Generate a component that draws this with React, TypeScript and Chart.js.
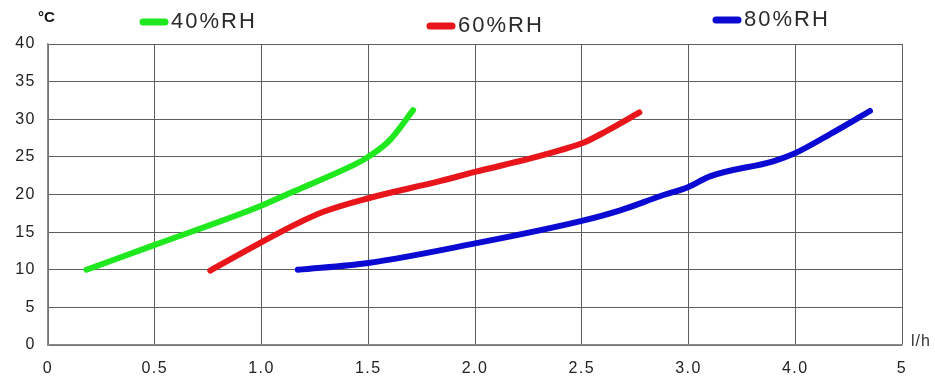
import React, { useEffect, useRef } from "react";
import { Chart, registerables } from "chart.js";

Chart.register(...registerables);

// x-axis tick labels (equally spaced on the chart, non-linear values)
const xTickLabels = ["0", "0.5", "1.0", "1.5", "2.0", "2.5", "3.0", "4.0", "5"];
const xTickValues = [0, 0.5, 1.0, 1.5, 2.0, 2.5, 3.0, 4.0, 5.0];
const yTicks = [0, 5, 10, 15, 20, 25, 30, 35, 40];

const seriesNames = ["40%RH", "60%RH", "80%RH"];
const seriesColors = ["#1fe81f", "#e8161b", "#0a0ad2"];

// flow l/h and temperature °C
const rh40Flow = [0.18, 0.5, 0.99, 1.15, 1.43, 1.5, 1.6, 1.71];
const rh40Temp = [10, 13.3, 18.4, 20.4, 23.9, 25.0, 27.2, 31.2];

const rh60Flow = [0.76, 0.99, 1.15, 1.29, 1.5, 1.84, 2.0, 2.26, 2.4, 2.51, 2.62, 2.77];
const rh60Temp = [9.9, 13.5, 15.9, 17.7, 19.5, 21.8, 23.0, 24.8, 25.9, 26.9, 28.5, 30.9];

const rh80Flow = [1.17, 1.5, 2.0, 2.5, 2.68, 2.87, 3.0, 3.2, 3.8, 4.0, 4.36, 4.7];
const rh80Temp = [10.0, 10.9, 13.5, 16.5, 17.9, 19.8, 21.0, 22.4, 24.45, 25.5, 28.3, 31.1];

// map a flow value to its position on the (piecewise) axis
function toAxis(v: number): number {
  for (let i = 0; i < xTickValues.length - 1; i++) {
    const a = xTickValues[i];
    const b = xTickValues[i + 1];
    if (v <= b || i === xTickValues.length - 2) {
      return i + (v - a) / (b - a);
    }
  }
  return 0;
}

const FONT = "'Liberation Sans', Arial, sans-serif";

export default function App() {
  const ref = useRef<HTMLCanvasElement | null>(null);

  useEffect(() => {
    if (!ref.current) return;
    const flows = [rh40Flow, rh60Flow, rh80Flow];
    const temps = [rh40Temp, rh60Temp, rh80Temp];
    const datasets = seriesNames.map((name, i) => ({
      label: name,
      data: flows[i].map((f, j) => ({ x: toAxis(f), y: temps[i][j] })),
      borderColor: seriesColors[i],
      backgroundColor: seriesColors[i],
      borderWidth: 6,
      pointRadius: 0,
      cubicInterpolationMode: "monotone" as const,
      borderCapStyle: "round" as const,
      borderJoinStyle: "round" as const,
    }));

    const legendPos = [
      { x: 140, y: 22 },
      { x: 427, y: 26 },
      { x: 713, y: 20 },
    ];

    const overlay = {
      id: "overlay",
      beforeDraw(chart: any) {
        chart.ctx.letterSpacing = "1.5px";
      },
      afterDraw(chart: any) {
        const ctx = chart.ctx;
        ctx.save();
        ctx.letterSpacing = "2px";
        seriesNames.forEach((name, i) => {
          const p = legendPos[i];
          ctx.strokeStyle = seriesColors[i];
          ctx.lineWidth = 7;
          ctx.lineCap = "round";
          ctx.beginPath();
          ctx.moveTo(p.x + 3, p.y);
          ctx.lineTo(p.x + 25, p.y);
          ctx.stroke();
          ctx.fillStyle = "#2a2a2a";
          ctx.font = `22px ${FONT}`;
          ctx.textBaseline = "middle";
          ctx.textAlign = "left";
          ctx.fillText(name, p.x + 31, p.y);
        });
        ctx.font = `bold 15px ${FONT}`;
        ctx.letterSpacing = "0px";
        ctx.fillStyle = "#111";
        ctx.textBaseline = "middle";
        ctx.fillText("°C", 38, 18);
        ctx.font = `16px ${FONT}`;
        ctx.letterSpacing = "1px";
        ctx.fillStyle = "#333";
        ctx.fillText("l/h", 911, 342);
        ctx.restore();
      },
    };

    const chart = new Chart(ref.current, {
      type: "line",
      data: { datasets },
      options: {
        animation: false,
        responsive: false,
        layout: { padding: { top: 44, right: 33, left: 0, bottom: 0 } },
        plugins: { legend: { display: false }, tooltip: { enabled: false } },
        scales: {
          x: {
            type: "linear",
            min: 0,
            max: xTickLabels.length - 1,
            afterFit(scale: any) {
              scale.height = 35;
            },
            afterBuildTicks(scale: any) {
              scale.ticks = xTickLabels.map((_, i) => ({ value: i }));
            },
            ticks: {
              autoSkip: false,
              padding: 14,
              color: "#222",
              font: { family: FONT, size: 16 },
              callback: (v: any) => xTickLabels[Math.round(Number(v))] ?? "",
            },
            grid: { color: "#5e5e5e", lineWidth: 1, drawTicks: false },
            border: { color: "#8a8a8a", width: 1.5 },
          },
          y: {
            type: "linear",
            min: 0,
            max: 40,
            afterFit(scale: any) {
              scale.width = 48;
            },
            afterBuildTicks(scale: any) {
              scale.ticks = yTicks.map((v) => ({ value: v }));
            },
            ticks: {
              padding: 12,
              color: "#222",
              font: { family: FONT, size: 16 },
            },
            grid: { color: "#5e5e5e", lineWidth: 1, drawTicks: false },
            border: { color: "#8a8a8a", width: 1.5 },
          },
        },
      },
      plugins: [overlay],
    });
    return () => chart.destroy();
  }, []);

  return (
    <div style={{ position: "fixed", left: 0, top: 0, width: 935, height: 380, background: "#fff" }}>
      <canvas ref={ref} width={935} height={380} style={{ width: 935, height: 380 }} />
    </div>
  );
}
